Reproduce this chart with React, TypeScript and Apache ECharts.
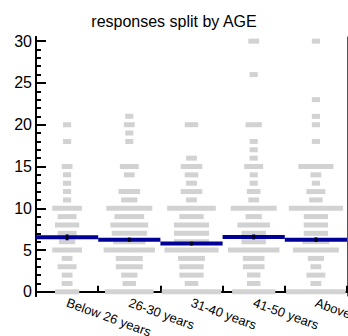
import React, { useEffect, useRef } from "react";
import * as echarts from "echarts";

const categories = ["Below 26 years", "26-30 years", "31-40 years", "41-50 years", "Above 50 years"];

// [response value, count] per age group
const below26 = [[0, 9], [1, 4], [2, 4], [3, 7], [4, 4], [5, 11], [6, 6], [7, 7], [8, 9], [9, 7], [10, 11], [11, 3], [12, 3], [13, 3], [14, 3], [15, 4], [18, 3], [20, 3]];
const age26to30 = [[0, 18], [1, 5], [2, 6], [3, 10], [4, 10], [5, 19], [6, 12], [7, 13], [8, 14], [9, 11], [10, 17], [11, 6], [12, 8], [14, 4], [15, 7], [18, 3], [19, 3], [20, 4], [21, 3]];
const age31to40 = [[0, 22], [1, 5], [2, 9], [3, 9], [4, 10], [5, 20], [6, 13], [7, 13], [8, 13], [9, 9], [10, 18], [11, 4], [12, 8], [13, 4], [14, 5], [15, 8], [16, 4], [20, 5]];
const age41to50 = [[0, 16], [1, 5], [2, 5], [3, 8], [4, 8], [5, 19], [6, 9], [7, 9], [8, 12], [9, 6], [10, 17], [11, 4], [12, 5], [13, 3], [14, 3], [15, 7], [16, 3], [17, 3], [18, 3], [20, 6], [26, 3], [30, 4]];
const above50 = [[0, 22], [1, 4], [2, 7], [3, 4], [4, 6], [5, 17], [6, 10], [7, 9], [8, 9], [9, 9], [10, 20], [11, 5], [12, 7], [13, 3], [14, 4], [15, 13], [18, 3], [20, 3], [21, 3], [23, 3], [30, 3]];
const groups = [below26, age26to30, age31to40, age41to50, above50];

const means = [6.52, 6.24, 5.77, 6.57, 6.24];
const stdErrors = [0.35, 0.25, 0.22, 0.3, 0.28];

const majorTicks = [0, 5, 10, 15, 20, 25, 30];
const minorTicks = Array.from({ length: 31 }, (_, i) => i);

const MAX_COUNT = 23;
const FONT = "'Liberation Sans', Arial, sans-serif";

export default function App() {
  const ref = useRef<HTMLDivElement>(null);

  useEffect(() => {
    if (!ref.current) return;
    const chart = echarts.init(ref.current, null, { renderer: "svg" });

    const barData: number[][] = [];
    groups.forEach((g, i) => g.forEach(([v, c]) => barData.push([i, v, c])));
    const meanData = means.map((m, i) => [i, m, stdErrors[i]]);

    const yBase = {
      type: "value",
      min: -0.5,
      max: 30.5,
      position: "left",
      splitLine: { show: false },
      axisLine: { show: true, lineStyle: { color: "#000", width: 2 } },
    };

    chart.setOption({
      animation: false,
      title: {
        text: "responses split by AGE",
        left: "center",
        top: 8,
        textStyle: { fontFamily: FONT, fontSize: 16, fontWeight: "normal", color: "#000" },
      },
      grid: { left: 36, right: 1, top: 37, bottom: 40, containLabel: false, outerBoundsMode: "none" },
      xAxis: [
        {
          type: "category",
          data: categories,
          position: "bottom",
          boundaryGap: true,
          axisLine: { show: true, lineStyle: { color: "#000", width: 2 } },
          axisTick: { show: true, inside: true, length: 6, interval: 0, lineStyle: { color: "#000", width: 2 } },
          axisLabel: {
            interval: 0,
            rotate: -20,
            margin: 6,
            color: "#000",
            fontFamily: FONT,
            fontSize: 13,
            hideOverlap: false,
          },
          splitLine: { show: false },
        },
        {
          type: "category",
          data: categories,
          position: "top",
          axisLine: { show: true, lineStyle: { color: "#000", width: 2 } },
          axisTick: { show: false },
          axisLabel: { show: false },
        },
      ],
      yAxis: [
        {
          ...yBase,
          axisTick: { show: true, inside: true, length: 10, customValues: majorTicks, lineStyle: { color: "#000", width: 2 } },
          axisLabel: { show: true, customValues: majorTicks, margin: 4, color: "#000", fontFamily: FONT, fontSize: 16 },
        },
        {
          ...yBase,
          axisTick: { show: true, inside: true, length: 5, customValues: minorTicks, lineStyle: { color: "#000", width: 2 } },
          axisLabel: { show: false },
        },
        {
          ...yBase,
          position: "right",
          axisLine: { show: true, lineStyle: { color: "#555", width: 1 } },
          axisTick: { show: false },
          axisLabel: { show: false },
        },
      ],
      series: [
        {
          type: "custom",
          xAxisIndex: 0,
          yAxisIndex: 0,
          encode: { x: 0, y: 1 },
          data: barData,
          z: 2,
          renderItem: (params: any, api: any) => {
            const c = api.coord([api.value(0), api.value(1)]);
            const band = api.size([1, 0])[0];
            const w = (api.value(2) / MAX_COUNT) * band;
            return {
              type: "rect",
              shape: { x: c[0] - w / 2, y: c[1] - 2.5, width: w, height: 5 },
              style: { fill: "#d2d2d2" },
            };
          },
        },
        {
          type: "custom",
          xAxisIndex: 0,
          yAxisIndex: 0,
          encode: { x: 0, y: 1 },
          data: meanData,
          z: 3,
          renderItem: (params: any, api: any) => {
            const c = api.coord([api.value(0), api.value(1)]);
            const band = api.size([1, 0])[0];
            const top = api.coord([api.value(0), api.value(1) + api.value(2)]);
            const bot = api.coord([api.value(0), api.value(1) - api.value(2)]);
            return {
              type: "group",
              children: [
                {
                  type: "rect",
                  shape: { x: c[0] - band / 2, y: c[1] - 2, width: band, height: 4 },
                  style: { fill: "#000096" },
                },
                {
                  type: "rect",
                  shape: { x: c[0] - 1.5, y: top[1], width: 3, height: bot[1] - top[1] },
                  style: { fill: "#000060" },
                },
                {
                  type: "circle",
                  shape: { cx: c[0], cy: c[1], r: 1.5 },
                  style: { fill: "#000" },
                },
              ],
            };
          },
        },
      ],
    });

    return () => chart.dispose();
  }, []);

  return (
    <div
      ref={ref}
      style={{ position: "fixed", left: 0, top: 0, width: 348, height: 336, background: "#fff" }}
    />
  );
}
